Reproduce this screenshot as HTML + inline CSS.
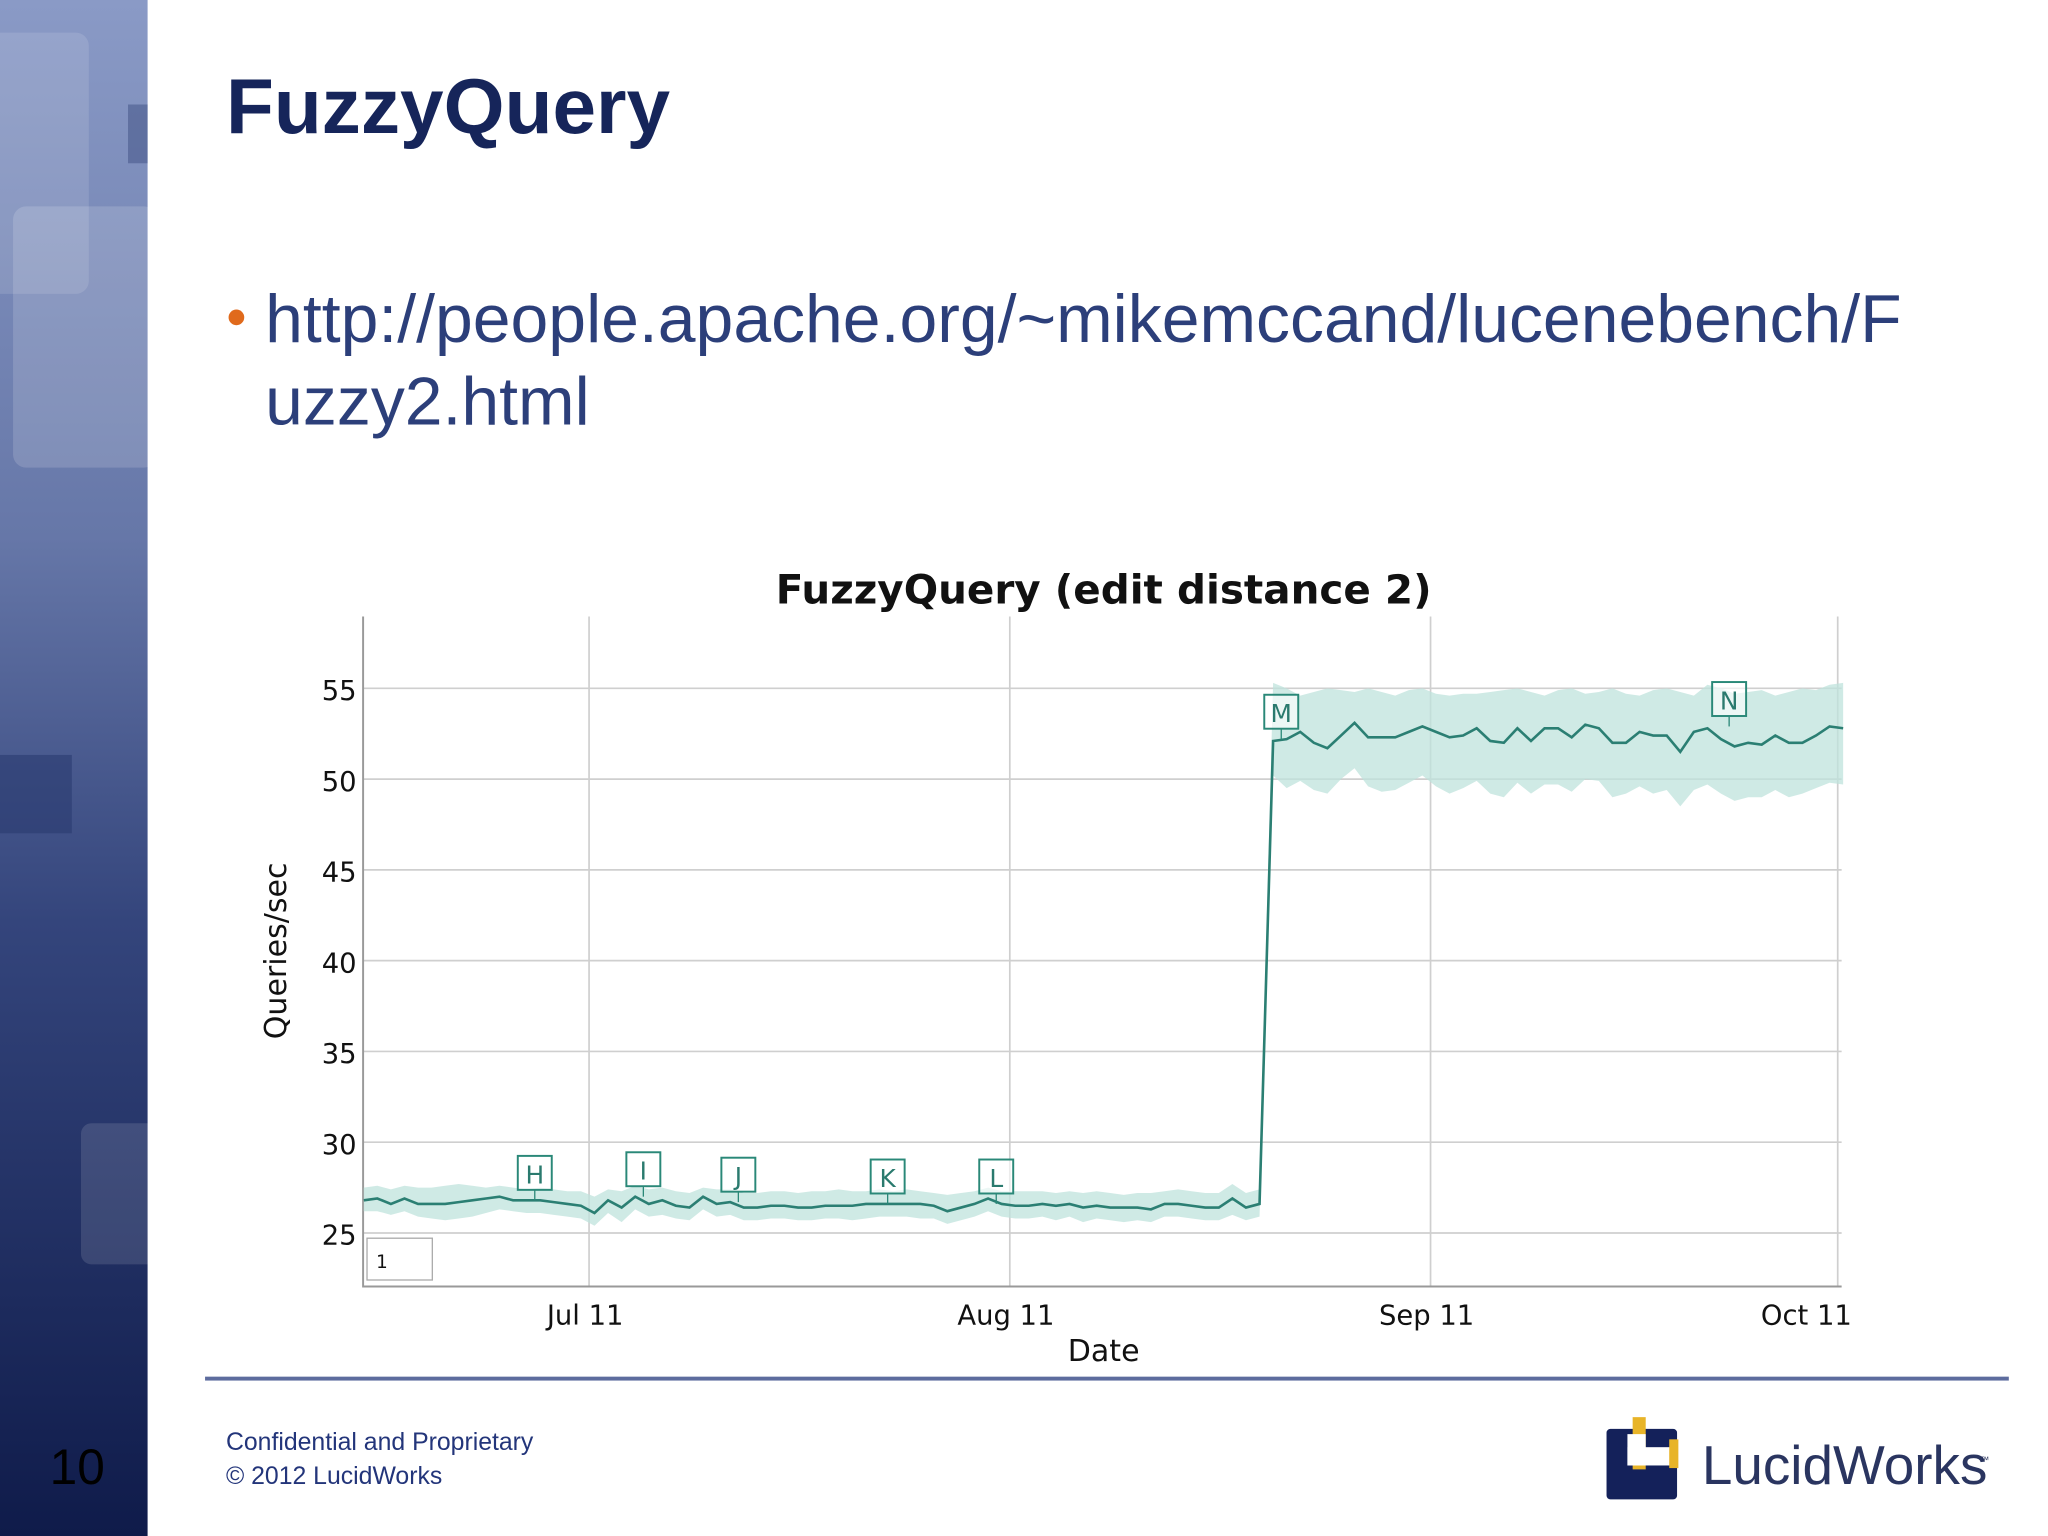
<!DOCTYPE html>
<html><head><meta charset="utf-8">
<style>
html,body{margin:0;padding:0;background:#fff;width:2048px;height:1536px;overflow:hidden}
svg{display:block}
text{font-family:"Liberation Sans",sans-serif}
.ck{font-family:"DejaVu Sans","Liberation Sans",sans-serif}
</style></head>
<body>
<svg id="page" width="2048" height="1536" viewBox="0 0 1568 1176" xmlns="http://www.w3.org/2000/svg">
<defs>
<linearGradient id="sb" x1="0" y1="0" x2="0" y2="1">
<stop offset="0" stop-color="#8a9ac6"/><stop offset="0.35" stop-color="#6677a8"/><stop offset="0.6" stop-color="#34457c"/><stop offset="1" stop-color="#0f1b4a"/>
</linearGradient>
</defs>
<rect width="1568" height="1176" fill="#fff"/>
<g>
<rect x="0" y="0" width="113" height="1176" fill="url(#sb)"/>
<rect x="-10" y="25" width="78" height="200" rx="10" fill="#ffffff" opacity="0.12"/>
<rect x="10" y="158" width="110" height="200" rx="10" fill="#ffffff" opacity="0.15"/>
<rect x="98" y="80" width="15" height="45" fill="#4a5a8c" opacity="0.6"/>
<rect x="0" y="578" width="55" height="60" fill="#2a3a70" opacity="0.6"/>
<rect x="62" y="860" width="60" height="108" rx="8" fill="#ffffff" opacity="0.12"/>
</g>
<text x="173" y="102" font-size="60" font-weight="bold" fill="#16255a">FuzzyQuery</text>
<circle cx="181" cy="243" r="6" fill="#e06a1c"/>
<text font-size="52" fill="#2c3f7a"><tspan x="203" y="262">http://people.apache.org/~mikemccand/lucenebench/F</tspan><tspan x="203" y="325">uzzy2.html</tspan></text>

<g id="chart"></g>

<rect x="157" y="1054" width="1381" height="3" fill="#5d6c9e"/>
<text x="173" y="1110" font-size="19" fill="#23357a">Confidential and Proprietary</text>
<text x="173" y="1136" font-size="19" fill="#23357a">© 2012 LucidWorks</text>
<text x="38" y="1136" font-size="38" fill="#000">10</text>
<g>
<rect x="1230" y="1094" width="54" height="54" rx="3" fill="#14215a"/>
<rect x="1250" y="1085" width="10" height="40" fill="#e8b428"/>
<rect x="1246" y="1108" width="34" height="14" fill="#fff"/>
<rect x="1246" y="1098" width="14" height="24" fill="#fff"/>
<rect x="1278" y="1102" width="7" height="22" fill="#e8b428"/>
<text x="1303" y="1136" font-size="42" fill="#2a3560">LucidWorks</text>
<text x="1516" y="1120" font-size="7" fill="#1e2a55">™</text>
</g>
</svg>
<script>
const yTicks=[25,30,35,40,45,50,55];
const xTickLabels=["Jul 11","Aug 11","Sep 11","Oct 11"];
const xTickDays=[0,31,62,92];
const startDay=-16.6;
const values=[26.8,26.9,26.6,26.9,26.6,26.6,26.6,26.7,26.8,26.9,27.0,26.8,26.8,26.8,26.7,26.6,26.5,26.1,26.8,26.4,27.0,26.6,26.8,26.5,26.4,27.0,26.6,26.7,26.4,26.4,26.5,26.5,26.4,26.4,26.5,26.5,26.5,26.6,26.6,26.6,26.6,26.6,26.5,26.2,26.4,26.6,26.9,26.6,26.5,26.5,26.6,26.5,26.6,26.4,26.5,26.4,26.4,26.4,26.3,26.6,26.6,26.5,26.4,26.4,26.9,26.4,26.6,
52.1,52.2,52.6,52.0,51.7,52.4,53.1,52.3,52.3,52.3,52.6,52.9,52.6,52.3,52.4,52.8,52.1,52.0,52.8,52.1,52.8,52.8,52.3,53.0,52.8,52.0,52.0,52.6,52.4,52.4,51.5,52.6,52.8,52.2,51.8,52.0,51.9,52.4,52.0,52.0,52.4,52.9,52.8];
const bandUpper=[27.5,27.6,27.4,27.6,27.5,27.5,27.6,27.7,27.6,27.5,27.6,27.5,27.4,27.5,27.4,27.3,27.3,27.0,27.4,27.3,27.6,27.4,27.5,27.3,27.2,27.5,27.4,27.4,27.2,27.2,27.3,27.3,27.2,27.3,27.3,27.4,27.3,27.3,27.4,27.3,27.4,27.3,27.2,27.1,27.2,27.3,27.5,27.3,27.3,27.3,27.3,27.2,27.3,27.2,27.3,27.2,27.1,27.2,27.2,27.3,27.4,27.3,27.2,27.2,27.7,27.2,27.4,
55.3,55.0,54.6,54.8,55.0,54.9,54.8,55.0,54.8,54.6,54.9,55.0,54.7,54.6,54.7,54.7,54.8,54.9,55.0,54.8,54.6,54.9,55.0,54.7,54.8,55.0,54.7,54.6,54.9,55.0,54.8,54.6,55.2,55.0,54.7,54.8,54.9,54.6,54.8,55.0,54.9,55.2,55.3];
const bandLower=[26.2,26.2,26.0,26.2,25.9,25.8,25.7,25.8,25.9,26.1,26.3,26.2,26.1,26.1,26.0,25.9,25.8,25.4,26.1,25.6,26.3,25.9,26.0,25.8,25.7,26.3,25.9,26.0,25.7,25.7,25.8,25.8,25.7,25.7,25.8,25.8,25.7,25.8,25.9,25.9,25.9,25.8,25.8,25.5,25.7,25.9,26.2,25.9,25.8,25.8,25.9,25.7,25.9,25.6,25.8,25.7,25.6,25.7,25.6,25.9,25.9,25.8,25.7,25.7,26.0,25.7,25.9,
50.2,49.5,49.9,49.4,49.2,50.0,50.6,49.6,49.3,49.4,49.8,50.2,49.6,49.2,49.5,49.9,49.2,49.0,49.8,49.2,49.7,49.7,49.3,50.0,49.9,49.0,49.2,49.6,49.2,49.4,48.5,49.4,49.7,49.2,48.8,49.0,49.0,49.4,49.0,49.2,49.5,49.8,49.7];
const annLabels=["H","I","J","K","L","M","N"];
const annDays=[-4,4,11,22,30,51,84];
const annValues=[26.8,27.0,26.7,26.6,26.6,52.2,52.9];

const L=278,R=1410,T=472,B=985;
function xs(d){return 451+d*(1407-451)/92;}
function ys(v){return 944-(v-25)*(944-527)/30;}
const NS="http://www.w3.org/2000/svg";
const g=document.getElementById('chart');
function mk(tag,attrs,parent){const e=document.createElementNS(NS,tag);for(const k in attrs)e.setAttribute(k,attrs[k]);(parent||g).appendChild(e);return e;}

yTicks.forEach(v=>{
  const l=mk('line',{x1:L,x2:R,y1:ys(v),y2:ys(v),stroke:'#cfcfcf','stroke-width':1.3});
  
  
  const t=mk('text',{x:273,y:ys(v)+9,'font-size':21,'text-anchor':'end',fill:'#111',class:'ck'});
  t.textContent=v;
  
  
});
xTickDays.forEach((d,i)=>{
  const l=mk('line',{x1:xs(d),x2:xs(d),y1:T,y2:B,stroke:'#cfcfcf','stroke-width':1.3});
  
  
  let tx=xs(d)-3;
  if(tx+35>R)tx=R-27;
  const t=mk('text',{x:tx,y:1014,'font-size':21,'text-anchor':'middle',fill:'#111',class:'ck'});
  t.textContent=xTickLabels[i];
  
  
});
const ax=mk('path',{d:`M${L},${T}V${B}H${R}`,fill:'none',stroke:'#999','stroke-width':1.5});



let up=[],lo=[];
values.forEach((v,i)=>{const x=xs(startDay+i);up.push(x+','+ys(bandUpper[i]));lo.unshift(x+','+ys(bandLower[i]));});
const band=mk('polygon',{points:up.concat(lo).join(' '),fill:'#bfe3dc',opacity:0.75});


const line=mk('polyline',{points:values.map((v,i)=>xs(startDay+i)+','+ys(v)).join(' '),fill:'none',stroke:'#2b7f73','stroke-width':2});



annLabels.forEach((a,i)=>{
  const x=xs(annDays[i]),y=ys(annValues[i]);
  const gg=mk('g',{});
  
  
  mk('line',{x1:x,x2:x,y1:y,y2:y-8,stroke:'#2a8878','stroke-width':1},gg);
  mk('rect',{x:x-13,y:y-34,width:26,height:26,fill:'#fff','fill-opacity':0.6,stroke:'#2a8878','stroke-width':1.5},gg);
  const t=mk('text',{x:x,y:y-13,'font-size':19,'text-anchor':'middle',fill:'#2a7a6e',class:'ck'},gg);
  t.textContent=a;
});

const sb=mk('rect',{x:281,y:948,width:50,height:32,fill:'#fff',stroke:'#aaa','stroke-width':1});


const st=mk('text',{x:288,y:971,'font-size':14,fill:'#111',class:'ck'});st.textContent='1';



const ct=mk('text',{x:845,y:462,'font-size':31,'font-weight':'bold','text-anchor':'middle',fill:'#111',class:'ck'});
ct.textContent='FuzzyQuery (edit distance 2)';


const xt=mk('text',{x:845,y:1042,'font-size':23,'text-anchor':'middle',fill:'#111',class:'ck'});
xt.textContent='Date';


const yt=mk('text',{x:0,y:0,'font-size':23,'text-anchor':'middle',fill:'#111',class:'ck',transform:'translate(219,728) rotate(-90)'});
yt.textContent='Queries/sec';


</script>
</body></html>
